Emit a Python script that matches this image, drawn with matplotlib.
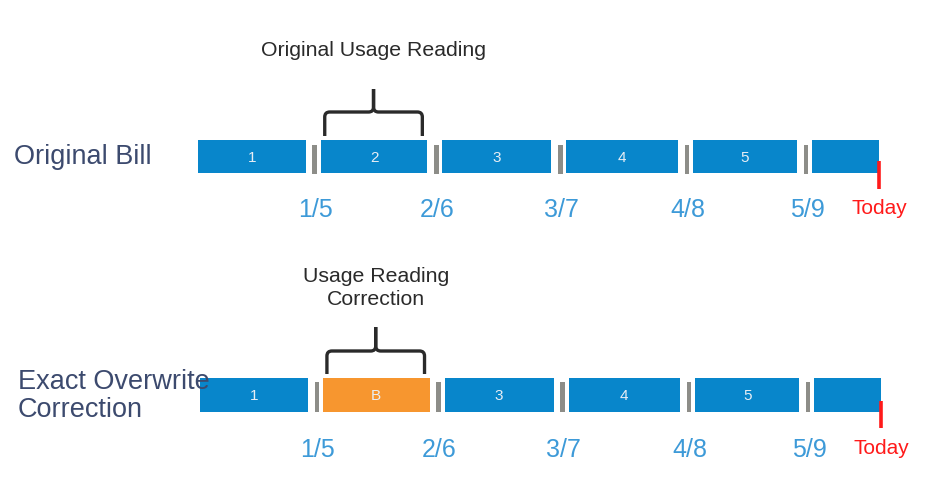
import matplotlib
matplotlib.use("Agg")
import matplotlib.pyplot as plt
from matplotlib.path import Path
from matplotlib.patches import PathPatch

plt.rcParams['font.family'] = ['Liberation Sans', 'DejaVu Sans']

# ---- data ----
row_labels = ["Original Bill", "Exact Overwrite\nCorrection"]
boundaries = [0.0, 0.96, 1.96, 2.98, 4.02, 5.0, 5.6]   # period boundaries (billing periods)
period_labels = [["1", "2", "3", "4", "5", ""],
                 ["1", "B", "3", "4", "5", ""]]
highlight = [None, 1]                                   # corrected period per row
date_labels = ["1/5", "2/6", "3/7", "4/8", "5/9"]
today_label = "Today"
brace_labels = ["Original Usage Reading", "Usage Reading\nCorrection"]
brace_period = 1

# ---- style ----
BLUE = "#0886cb"
ORANGE = "#f7962f"
GRAY = "#8d8d88"
DATE_C = "#3d9ad8"
RED = "#ff1a1a"
TXT = "#3c4a6e"
DARK = "#2a2a2a"

PX = 121.6              # pixels per period unit
X0 = 198                # pixel of first boundary
W, H = 936, 489

fig = plt.figure(figsize=(W / 100, H / 100), dpi=100)
ax = fig.add_axes([0, 0, 1, 1])
ax.set_xlim(-X0 / PX, (W - X0) / PX)
ax.set_ylim(H, 0)
ax.axis("off")

rows = [dict(top=141, h=33, sep=(146, 175), tick=(162, 190), date_y=210, today_y=208,
             brace=(137, 113, 90), label_y=51, xoff=0.0),
        dict(top=379, h=34, sep=(383, 413), tick=(402, 429), date_y=450, today_y=448,
             brace=(375, 352, 328), label_y=288, xoff=0.018)]

gap_l = 6 / PX
gap_r = 9 / PX
r_x = 5 / PX


def brace(ax, x0, x1, yb, ym, yt):
    xc = (x0 + x1) / 2
    for a, sgn in ((x0, 1), (x1, -1)):
        verts = [(a, yb), (a, ym + 5), (a, ym), (a + sgn * r_x, ym),
                 (xc - sgn * r_x, ym), (xc, ym), (xc, ym - 5), (xc, yt)]
        codes = [Path.MOVETO, Path.LINETO, Path.CURVE3, Path.CURVE3,
                 Path.LINETO, Path.CURVE3, Path.CURVE3, Path.LINETO]
        ax.add_patch(PathPatch(Path(verts, codes), fill=False, ec=DARK, lw=2.4,
                               capstyle="butt", joinstyle="round"))


n = len(boundaries) - 1
for ri, row in enumerate(rows):
    xo = row["xoff"]
    for i in range(n):
        start = boundaries[i] + (gap_l if i > 0 else 0) + xo
        end = boundaries[i + 1] - (gap_r if i < n - 1 else 0) + xo
        color = ORANGE if highlight[ri] == i else BLUE
        ax.bar(start, row["h"], width=end - start, bottom=row["top"], align="edge",
               color=color, edgecolor="none")
        if period_labels[ri][i]:
            ax.text((start + end) / 2, row["top"] + row["h"] / 2, period_labels[ri][i],
                    ha="center", va="center", color="#e8eef5", fontsize=11)
    # separators
    for b in boundaries[1:-1]:
        ax.bar(b + xo, row["sep"][1] - row["sep"][0], width=4.5 / PX, bottom=row["sep"][0],
               align="center", color=GRAY, edgecolor="none")
    # dates
    for b, d in zip(boundaries[1:-1], date_labels):
        ax.text(b + xo + 1 / PX, row["date_y"], d, ha="center", va="center",
                color=DATE_C, fontsize=18)
    # today marker
    tx = boundaries[-1] + xo
    ax.plot([tx, tx], row["tick"], color=RED, lw=2.6, solid_capstyle="butt")
    ax.text(tx, row["today_y"], today_label, ha="center", va="center",
            color=RED, fontsize=15)
    # brace
    bx0 = boundaries[brace_period] + gap_l + 4 / PX + xo
    bx1 = boundaries[brace_period + 1] - gap_r - 5 / PX + xo
    brace(ax, bx0, bx1, *row["brace"])
    ax.text((bx0 + bx1) / 2, row["label_y"], brace_labels[ri], ha="center", va="center",
            color=DARK, fontsize=15.3, linespacing=1.32)

# row labels
ax.text(-X0 / PX + 14 / PX, 157, row_labels[0], ha="left", va="center",
        color=TXT, fontsize=19.5)
ax.text(-X0 / PX + 18 / PX, 396, row_labels[1], ha="left", va="center",
        color=TXT, fontsize=19.5, linespacing=1.08)

fig.savefig("out.png", dpi=100, facecolor="white")
